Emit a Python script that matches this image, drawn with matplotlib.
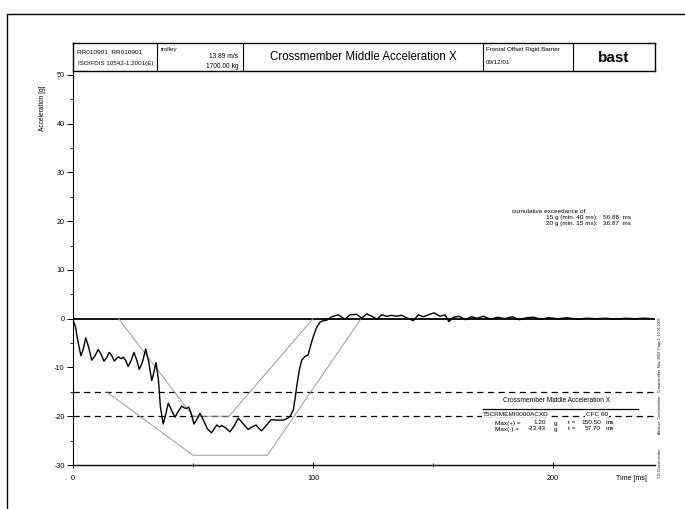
import numpy as np
import matplotlib
matplotlib.use('Agg')
import matplotlib.pyplot as plt
from matplotlib.lines import Line2D
from matplotlib.patches import Rectangle

plt.rcParams['font.family'] = ['Liberation Sans', 'DejaVu Sans']
plt.rcParams['axes.unicode_minus'] = False

# signal (t in ms, a in g)
time_ms = [0, 1, 2, 3.3, 4.3, 5.3, 6.5, 7.8, 9.2, 10.5, 11.7, 12.9, 14, 15.1, 16.2, 17.2,
           18.1, 18.9, 19.9, 21, 22, 23, 24.2, 25.4, 26.5, 27.6, 29, 30.3, 31.6, 32.8, 33.7,
           34.6, 35.6, 36.4, 37.6, 38.7, 39.7, 41.1, 42.5, 43.9, 45.3, 46.3, 47.3, 48.2, 49.3,
           50.4, 51.7, 52.9, 54.5, 56, 57.7, 58.8, 59.9, 61, 62, 63.6, 65.4, 67.1, 68.9, 71,
           73, 74.6, 76.3, 77.5, 78.6, 80.3, 82.5, 85, 87.6, 89, 90.4, 91.8, 92.5, 93.2, 94.3,
           95.3, 96.5, 98, 99, 100.1, 101.5, 102.9, 104.3, 105.7, 107.8, 110.5, 113.3, 115.4,
           118.2, 120.3, 122.4, 124.5, 126.6, 128.6, 130.7, 132.8, 134.8, 136.9, 139, 141.8,
           143.9, 146, 148, 150.5, 152.9, 155, 156.6, 158.5, 161, 163.5, 166, 168.5, 171, 174,
           177, 180, 183, 186, 189, 192, 195, 198, 202, 206, 210, 214, 218, 222, 226, 230, 234,
           238, 242]
accel_g = [-0.3, -1.6, -4.5, -7.6, -6.2, -3.9, -5.8, -8.5, -7.6, -6.3, -7.3, -8.7, -8.0, -6.9,
           -7.6, -8.7, -8.2, -7.8, -8.2, -7.9, -8.6, -9.8, -8.6, -6.9, -8.4, -10.4, -8.8, -6.2,
           -9.0, -12.7, -11.0, -9.0, -12.5, -18.0, -21.6, -19.5, -17.3, -18.8, -20.2, -19.0,
           -17.9, -18.3, -18.4, -18.1, -19.5, -21.6, -20.6, -19.4, -21.0, -22.6, -23.4, -22.6,
           -21.8, -22.2, -21.9, -22.4, -23.2, -22.0, -20.4, -21.6, -22.7, -22.2, -21.8, -22.5,
           -23.0, -22.0, -20.7, -20.8, -20.8, -20.5, -20.1, -18.7, -16.5, -13.9, -10.5, -8.5,
           -7.8, -7.4, -5.5, -3.7, -1.8, -0.7, -0.4, -0.3, 0.4, 0.8, -0.1, 0.8, 0.9, 0.1, 1.0,
           0.5, -0.1, 0.8, 0.5, 0.7, 0.5, 0.7, 0.2, -0.4, 0.8, 0.4, 0.8, 1.2, 0.5, 0.8, -0.6,
           0.3, 0.5, -0.2, 0.4, 0.1, 0.5, -0.1, 0.3, 0.0, 0.4, -0.2, 0.2, 0.3, -0.1, 0.2, 0.0,
           0.2, -0.1, 0.1, 0.0, 0.1, -0.1, 0.1, 0.0, 0.1, 0.0]

# corridors
upper_t = [19, 50, 65, 100]
upper_a = [0, -20, -20, 0]
lower_t = [14, 50, 81, 120]
lower_a = [-15, -28, -28, 0]
thresholds = [-15, -20]

W, H = 685, 509
def fx(x): return x / W
def fy(y): return 1 - y / H

fig = plt.figure(figsize=(W/100, H/100), dpi=100)

# outer frame
fig.add_artist(Rectangle((fx(7), fy(600)), fx(700), fy(14) - fy(600), transform=fig.transFigure,
                         fill=False, lw=1.0, ec='black'))

ax = fig.add_axes([fx(73), fy(465), fx(655) - fx(73), fy(71) - fy(465)])
ax.set_xlim(0, 242.5)
ax.set_ylim(-30, 50.8)
for s in ['top', 'right']:
    ax.spines[s].set_visible(False)
ax.spines['left'].set_linewidth(0.8)
ax.spines['bottom'].set_linewidth(1.0)

ax.set_yticks(range(-30, 51, 10))
ax.set_yticks(range(-25, 50, 10), minor=True)
ax.set_xticks([0, 100, 200])
ax.set_xticks([50, 150], minor=True)
ax.tick_params(axis='y', which='major', direction='out', length=4, width=0.7, labelsize=5.2, pad=2)
ax.tick_params(axis='y', which='minor', direction='out', length=2, width=0.6)
ax.tick_params(axis='x', which='major', direction='inout', length=5, width=0.7, labelsize=5.2, pad=5)
ax.tick_params(axis='x', which='minor', direction='inout', length=3, width=0.6)

ax.axhline(0, color='black', lw=1.3)
for th in thresholds:
    ax.axhline(th, color='black', lw=0.9, dashes=(5, 3.5))
ax.plot(upper_t, upper_a, color='0.6', lw=0.7)
ax.plot(lower_t, lower_a, color='0.6', lw=0.7)
ax.plot(time_ms, accel_g, color='black', lw=1.0)

fig.text(fx(42), fy(108), 'Acceleration [g]', rotation=90, fontsize=4.8, ha='center', va='center')
fig.text(fx(631), fy(479), 'Time [ms]', fontsize=5, ha='center', va='center')

# header box
hd = fig.add_axes([fx(73), fy(71), fx(655) - fx(73), fy(43) - fy(71)])
hd.set_xlim(73, 655)
hd.set_ylim(71, 43)
hd.set_xticks([])
hd.set_yticks([])
for s in hd.spines.values():
    s.set_linewidth(1.0)
for xd in [157, 243, 483, 573]:
    hd.axvline(xd, color='black', lw=0.8)
hd.text(77, 52, 'RR010901  RR010901', fontsize=4.6, va='center')
hd.text(78, 64, 'ISO/FDIS 10542-1:2001(E)', fontsize=4.5, va='center')
hd.text(161, 49, 'trolley', fontsize=4.5, va='center')
hd.text(238, 57, '13.89 m/s', fontsize=4.8, va='center', ha='right')
hd.text(238, 67, '1700.00 kg', fontsize=4.8, va='center', ha='right')
hd.text(363, 57, 'Crossmember Middle Acceleration X', fontsize=8.3, va='center', ha='center')
hd.text(486, 50, 'Frontal Offset Rigid Barrier', fontsize=4.5, va='center')
hd.text(486, 62, '09/12/01', fontsize=4.5, va='center')
hd.text(614, 58, 'bast', fontsize=11, fontweight='bold', va='center', ha='center')

# exceedance info
fig.text(fx(512), fy(211.5), 'cumulative exceedance of', fontsize=4.6, va='center')
fig.text(fx(598), fy(217.5), '15 g (min. 40 ms):', fontsize=4.6, va='center', ha='right')
fig.text(fx(603), fy(217.5), '56.88  ms', fontsize=4.6, va='center')
fig.text(fx(598), fy(223.5), '20 g (min. 15 ms):', fontsize=4.6, va='center', ha='right')
fig.text(fx(603), fy(223.5), '36.87  ms', fontsize=4.6, va='center')

# legend block
fig.text(fx(557), fy(400.5), 'Crossmember Middle Acceleration X', fontsize=4.8, ha='center', va='center')
fig.add_artist(Line2D([fx(483), fx(638)], [fy(408.5), fy(408.5)], color='black', lw=0.9,
                      transform=fig.transFigure))
fig.text(fx(516), fy(414), 'T5CRMEMI0000ACXD', fontsize=4.6, ha='center', va='center',
         bbox=dict(facecolor='white', edgecolor='none', pad=0.6))
fig.text(fx(597), fy(414), 'CFC 60', fontsize=4.6, ha='center', va='center',
         bbox=dict(facecolor='white', edgecolor='none', pad=0.6))
for yy, lab, val, tv in [(423, 'Max(+) =', '1.20', '150.50'), (429, 'Max(-) =', '-23.43', '57.70')]:
    fig.text(fx(495), fy(yy), lab, fontsize=4.6, va='center')
    fig.text(fx(546), fy(yy), val, fontsize=4.6, va='center', ha='right')
    fig.text(fx(554), fy(yy), 'g', fontsize=4.6, va='center')
    fig.text(fx(568), fy(yy), 't =', fontsize=4.6, va='center')
    fig.text(fx(601), fy(yy), tv, fontsize=4.6, va='center', ha='right')
    fig.text(fx(606), fy(yy), 'ms', fontsize=4.6, va='center')

# side notes
fig.text(fx(660), fy(355), 'Crossmember  Nov. 2002  Page 1  12.05.2005', rotation=90,
         fontsize=2.6, ha='center', va='center')
fig.text(fx(660), fy(415), 'Attribute: Crossmember', rotation=90,
         fontsize=2.6, ha='center', va='center')
fig.text(fx(660), fy(463), 'T-G Crossmember', rotation=90,
         fontsize=2.6, ha='center', va='center')

fig.savefig('out.png', dpi=100)
